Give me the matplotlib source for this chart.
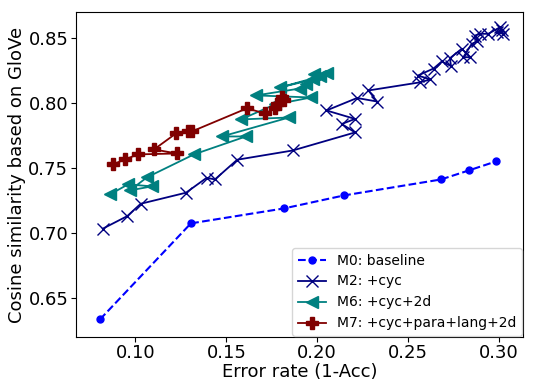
import numpy as np
import matplotlib
matplotlib.use("Agg")
import matplotlib.pyplot as plt

# M0: baseline
m0_err = [0.0805, 0.1305, 0.1817, 0.2147, 0.2681, 0.2835, 0.2984]
m0_cos = [0.6338, 0.7077, 0.7192, 0.7292, 0.7415, 0.7485, 0.7554]

# M2: +cyc
m2_err = [0.0820, 0.0955, 0.1029, 0.1278, 0.1392, 0.1437, 0.1560, 0.1865,
          0.2208, 0.2135, 0.2208, 0.2051, 0.2219, 0.2329, 0.2282, 0.2563,
          0.2623, 0.2554, 0.2640, 0.2685, 0.2736, 0.2730, 0.2795, 0.2843,
          0.2804, 0.2850, 0.2881, 0.2868, 0.2895, 0.2941, 0.3006, 0.3024,
          0.2987, 0.3015]
m2_cos = [0.7036, 0.7133, 0.7228, 0.7313, 0.7428, 0.7415, 0.7567, 0.7638,
          0.7777, 0.7842, 0.7881, 0.7946, 0.8042, 0.8015, 0.8100, 0.8162,
          0.8185, 0.8215, 0.8269, 0.8323, 0.8288, 0.8348, 0.8421, 0.8356,
          0.8356, 0.8459, 0.8477, 0.8523, 0.8536, 0.8536, 0.8587, 0.8536,
          0.8548, 0.8562]

# M6: +cyc+2d
m6_err = [0.0860, 0.0959, 0.1091, 0.0970, 0.1063, 0.1322, 0.1608, 0.1476,
          0.1845, 0.1580, 0.1767, 0.1966, 0.1663, 0.1905, 0.1977, 0.1795,
          0.2015, 0.1938, 0.2054, 0.1982]
m6_cos = [0.7300, 0.7377, 0.7362, 0.7331, 0.7431, 0.7608, 0.7746, 0.7746,
          0.7892, 0.7877, 0.7992, 0.8046, 0.8062, 0.8115, 0.8185, 0.8123,
          0.8208, 0.8146, 0.8231, 0.8223]

# M7: +cyc+para+lang+2d
m7_err = [0.0876, 0.0942, 0.1014, 0.1228, 0.1102, 0.1223, 0.1289, 0.1311,
          0.1613, 0.1713, 0.1768, 0.1779, 0.1806, 0.1817]
m7_cos = [0.7531, 0.7569, 0.7608, 0.7615, 0.7646, 0.7769, 0.7785, 0.7785,
          0.7962, 0.7923, 0.7962, 0.7992, 0.8046, 0.8023]

fig = plt.figure(figsize=(5.33, 3.91), dpi=100)
ax = fig.add_axes([0.1426, 0.1373, 0.8386, 0.8327])

ax.plot(m0_err, m0_cos, 'o--', color='blue', markersize=5, linewidth=1.5,
        label='M0: baseline')
ax.plot(m2_err, m2_cos, 'x-', color='navy', markersize=9, linewidth=1.3,
        label='M2: +cyc')
ax.plot(m6_err, m6_cos, '<-', color='teal', markersize=8, linewidth=1.3,
        label='M6: +cyc+2d')
ax.plot(m7_err, m7_cos, 'P-', color='maroon', markersize=8, linewidth=1.3,
        label='M7: +cyc+para+lang+2d')

ax.set_xlim(0.0673, 0.3132)
ax.set_ylim(0.620, 0.8706)
ax.set_xticks([0.10, 0.15, 0.20, 0.25, 0.30])
ax.set_yticks([0.65, 0.70, 0.75, 0.80, 0.85])
ax.tick_params(labelsize=13)
ax.tick_params(axis='x', pad=1)
ax.tick_params(axis='y', pad=2)
ax.set_xlabel('Error rate (1-Acc)', fontsize=13, labelpad=1)
ax.set_ylabel('Cosine similarity based on GloVe', fontsize=13, labelpad=2)
ax.legend(loc='lower right', fontsize=10, borderaxespad=0.1)

fig.savefig('out.png', dpi=100)
